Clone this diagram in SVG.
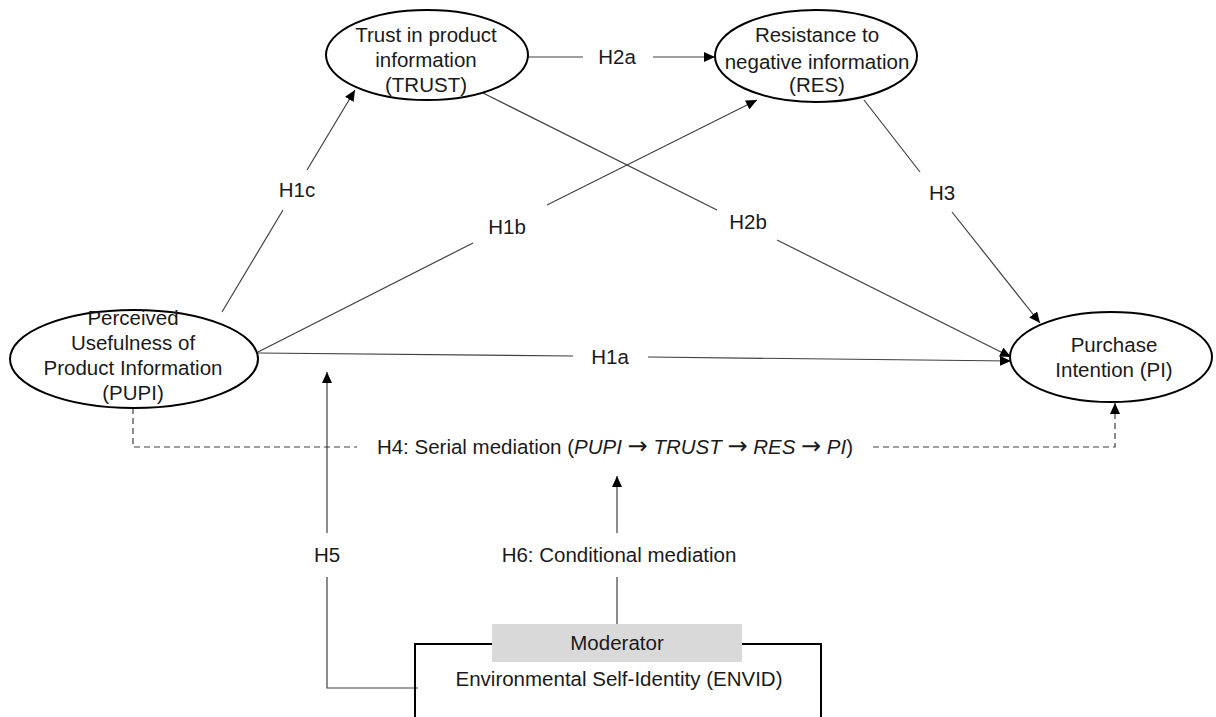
<svg xmlns="http://www.w3.org/2000/svg" width="1216" height="717" viewBox="0 0 1216 717">
<style>
  text { font-family: "Liberation Sans", Arial, sans-serif; font-size: 20.5px; fill: #1a1a1a; text-anchor: middle; }
  .ar { font-family: "DejaVu Sans", sans-serif; font-style: normal; font-size: 24px; }
  .node { fill: #ffffff; stroke: #000000; stroke-width: 2; }
  .conn { fill: none; stroke: #404040; stroke-width: 1.2; }
  .dash { fill: none; stroke: #404040; stroke-width: 1.2; stroke-dasharray: 6 4; }
  .box { fill: none; stroke: #000000; stroke-width: 2; }
</style>
<defs>
  <marker id="arr" markerUnits="userSpaceOnUse" markerWidth="12" markerHeight="10" refX="11" refY="5" orient="auto">
    <path d="M0,0 L11,5 L0,10 z" fill="#000000"/>
  </marker>
</defs>
<rect width="1216" height="717" fill="#ffffff"/>

<g id="connectors">
  <!-- H2a -->
  <line class="conn" x1="528" y1="57" x2="583" y2="57"/>
  <line class="conn" x1="653" y1="57" x2="715" y2="57" marker-end="url(#arr)"/>
  <!-- H1c -->
  <line class="conn" x1="222" y1="312" x2="283" y2="210"/>
  <line class="conn" x1="307" y1="170" x2="355" y2="90" marker-end="url(#arr)"/>
  <!-- H1b -->
  <line class="conn" x1="258" y1="352" x2="473" y2="243"/>
  <line class="conn" x1="547" y1="205" x2="757" y2="100" marker-end="url(#arr)"/>
  <!-- H2b -->
  <line class="conn" x1="483" y1="93" x2="717" y2="210"/>
  <line class="conn" x1="777" y1="240" x2="1011" y2="357" marker-end="url(#arr)"/>
  <!-- H3 -->
  <line class="conn" x1="864" y1="100" x2="920" y2="172"/>
  <line class="conn" x1="952" y1="212" x2="1040" y2="323" marker-end="url(#arr)"/>
  <!-- H1a -->
  <line class="conn" x1="258" y1="353" x2="573" y2="356"/>
  <line class="conn" x1="648" y1="357" x2="1011" y2="361" marker-end="url(#arr)"/>
  <!-- H4 dashed -->
  <polyline class="dash" points="133,408 133,447 357,447"/>
  <polyline class="dash" points="873,447 1115,447 1115,403" marker-end="url(#arr)"/>
  <!-- H5 -->
  <line class="conn" x1="327" y1="533" x2="327" y2="372" marker-end="url(#arr)"/>
  <polyline class="conn" points="418,688 327,688 327,577"/>
  <!-- H6 -->
  <line class="conn" x1="617" y1="533" x2="617" y2="476" marker-end="url(#arr)"/>
  <line class="conn" x1="617" y1="624" x2="617" y2="577"/>
  <!-- labels -->
  <text x="617" y="64">H2a</text>
  <text x="297" y="197">H1c</text>
  <text x="507" y="234">H1b</text>
  <text x="748" y="229">H2b</text>
  <text x="942" y="200">H3</text>
  <text x="610" y="364">H1a</text>
  <text x="615" y="454">H4: Serial mediation (<tspan font-style="italic">PUPI <tspan class="ar">→</tspan> TRUST <tspan class="ar">→</tspan> RES <tspan class="ar">→</tspan> PI</tspan>)</text>
  <text x="327" y="562">H5</text>
  <text x="619" y="562">H6: Conditional mediation</text>
</g>

<g id="trust">
  <ellipse class="node" cx="427" cy="55" rx="101" ry="45"/>
  <text x="426" y="42">Trust in product</text>
  <text x="426" y="67">information</text>
  <text x="426" y="92">(TRUST)</text>
</g>

<g id="res">
  <ellipse class="node" cx="816" cy="56" rx="101" ry="46"/>
  <text x="817" y="42">Resistance to</text>
  <text x="817" y="69">negative information</text>
  <text x="817" y="92">(RES)</text>
</g>

<g id="pupi">
  <ellipse class="node" cx="134" cy="359" rx="124" ry="49"/>
  <text x="133" y="325">Perceived</text>
  <text x="133" y="350">Usefulness of</text>
  <text x="133" y="375">Product Information</text>
  <text x="133" y="400">(PUPI)</text>
</g>

<g id="pi">
  <ellipse class="node" cx="1111" cy="357" rx="101" ry="45"/>
  <text x="1114" y="352">Purchase</text>
  <text x="1114" y="377">Intention (PI)</text>
</g>

<g id="envid">
  <polyline class="box" points="415,717 415,644 821,644 821,717"/>
  <rect x="492" y="624" width="250" height="38" fill="#d9d9d9"/>
  <text x="617" y="650">Moderator</text>
  <text x="619" y="686">Environmental Self-Identity (ENVID)</text>
</g>
</svg>
